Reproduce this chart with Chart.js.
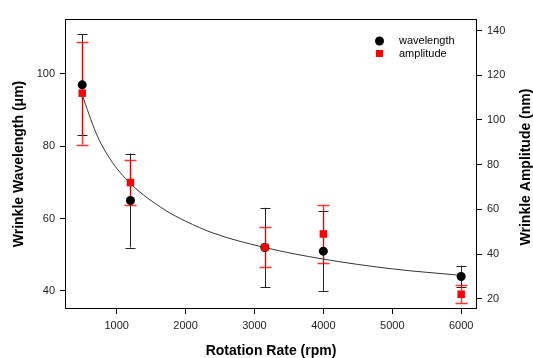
<!DOCTYPE html>
<html>
<head>
<meta charset="utf-8">
<script src="https://cdn.jsdelivr.net/npm/chart.js@4"></script>
<style>
  html, body { margin: 0; padding: 0; background: #fff; }
  #wrap { width: 533px; height: 358px; }
</style>
</head>
<body>
<div id="wrap"><canvas id="chart" width="533" height="358"></canvas></div>
<script>
'use strict';

// --- data ---
const rpm = [500, 1200, 3150, 4000, 6000];
const wavelength = [97, 65, 52, 51, 44];          // µm, left axis
const wavelengthErr = [14, 13, 11, 11, 3];
const amplitude = [112, 72, 43, 49, 22];          // nm, right axis
const amplitudeErr = [23, 10, 9, 13, 4];

// fitted curve (left axis)
const fitRpm = [500, 700, 900, 1200, 1700, 2000, 2400, 3150, 4000, 5000, 6000];
const fitWavelength = [94.2, 83.7, 76.6, 69.7, 62.4, 59.3, 56.0, 52.0, 48.8, 46.1, 44.3];

const xTicks = [1000, 2000, 3000, 4000, 5000, 6000];
const leftTicks = [40, 60, 80, 100];
const rightTicks = [20, 40, 60, 80, 100, 120, 140];

const FONT = "'Liberation Sans', Arial, Helvetica, sans-serif";

const toPoints = (xs, ys) => xs.map((x, i) => ({ x: x, y: ys[i] }));

// error bars drawn under the markers, through the chart scales
const errorBars = {
    id: 'errorBars',
    beforeDatasetsDraw(chart) {
        const ctx = chart.ctx;
        const xScale = chart.scales.x;
        chart.data.datasets.forEach(ds => {
            if (!ds.errors) return;
            const yScale = chart.scales[ds.yAxisID];
            ctx.save();
            ctx.strokeStyle = ds.errorColor;
            ctx.lineWidth = ds.errorWidth;
            ds.data.forEach((p, j) => {
                const x = Math.round(xScale.getPixelForValue(p.x)) + 0.5;
                const top = yScale.getPixelForValue(p.y + ds.errors[j]);
                const bot = yScale.getPixelForValue(p.y - ds.errors[j]);
                const cap = ds.capHalf;
                ctx.beginPath();
                ctx.moveTo(x, top);
                ctx.lineTo(x, bot);
                ctx.moveTo(x - cap, Math.round(top) + 0.5);
                ctx.lineTo(x + cap, Math.round(top) + 0.5);
                ctx.moveTo(x - cap, Math.round(bot) + 0.5);
                ctx.lineTo(x + cap, Math.round(bot) + 0.5);
                ctx.stroke();
            });
            ctx.restore();
        });
    }
};

// frame around the plot, custom legend and the right-hand title
const decorations = {
    id: 'decorations',
    beforeDatasetsDraw(chart) {
        const { ctx, chartArea: a } = chart;
        ctx.save();
        ctx.strokeStyle = '#000';
        ctx.lineWidth = 1;
        ctx.strokeRect(Math.round(a.left) + 0.5, Math.round(a.top) + 0.5,
            Math.round(a.right - a.left) - 1, Math.round(a.bottom - a.top) - 1);
        ctx.restore();
    },
    afterDraw(chart) {
        const ctx = chart.ctx;
        ctx.save();
        // legend
        ctx.fillStyle = '#000';
        ctx.beginPath();
        ctx.arc(379.5, 41, 4.5, 0, Math.PI * 2);
        ctx.fill();
        ctx.fillStyle = '#ff0000';
        ctx.fillRect(376, 50, 7, 7);
        ctx.fillStyle = '#000';
        ctx.font = '11px ' + FONT;
        ctx.textAlign = 'left';
        ctx.textBaseline = 'middle';
        ctx.fillText('wavelength', 399, 41);
        ctx.fillText('amplitude', 399, 53.5);
        // right axis title, reading bottom to top
        ctx.font = 'bold 14px ' + FONT;
        ctx.textAlign = 'center';
        ctx.translate(526.5, 167);
        ctx.rotate(-Math.PI / 2);
        ctx.fillText('Wrinkle Amplitude (nm)', 0, 0);
        ctx.restore();
    }
};

const tickStyle = {
    color: '#222',
    font: { family: FONT, size: 11 },
    padding: 5,
    callback: v => String(v)
};
const gridStyle = { drawOnChartArea: false, drawTicks: true, tickLength: 5, color: '#000', tickColor: '#000' };

new Chart(document.getElementById('chart'), {
    type: 'scatter',
    data: {
        datasets: [
            {
                label: 'wavelength',
                data: toPoints(rpm, wavelength),
                yAxisID: 'y',
                errors: wavelengthErr,
                errorColor: '#222',
                errorWidth: 1,
                capHalf: 5,
                pointStyle: 'circle',
                pointRadius: 4.5,
                pointBackgroundColor: '#000',
                pointBorderWidth: 0,
                order: 1
            },
            {
                label: 'amplitude',
                data: toPoints(rpm, amplitude),
                yAxisID: 'y1',
                errors: amplitudeErr,
                errorColor: 'rgba(255, 0, 0, 0.8)',
                errorWidth: 1.5,
                capHalf: 6,
                pointStyle: 'rect',
                pointRadius: 5.3,
                pointBackgroundColor: '#ff0000',
                pointBorderWidth: 0,
                order: 0
            },
            {
                label: 'fit',
                data: toPoints(fitRpm, fitWavelength),
                yAxisID: 'y',
                showLine: true,
                cubicInterpolationMode: 'monotone',
                borderColor: '#333',
                borderWidth: 1,
                pointRadius: 0,
                order: 2
            }
        ]
    },
    options: {
        responsive: false,
        animation: false,
        layout: { padding: { top: 19, left: 0, right: 0, bottom: 0 } },
        plugins: { legend: { display: false }, tooltip: { enabled: false } },
        scales: {
            x: {
                type: 'linear',
                position: 'bottom',
                min: 250,
                max: 6230,
                afterBuildTicks: s => { s.ticks = xTicks.map(v => ({ value: v })); },
                afterFit: s => { s.height = 49; },
                ticks: Object.assign({ maxRotation: 0, autoSkip: false }, tickStyle),
                grid: gridStyle,
                border: { display: false },
                title: {
                    display: true,
                    text: 'Rotation Rate (rpm)',
                    color: '#000',
                    font: { family: FONT, size: 14, weight: 'bold', lineHeight: 1 },
                    padding: { top: 0, bottom: 0 }
                }
            },
            y: {
                type: 'linear',
                position: 'left',
                min: 35,
                max: 115.2,
                afterBuildTicks: s => { s.ticks = leftTicks.map(v => ({ value: v })); },
                afterFit: s => { s.width = 65; },
                ticks: tickStyle,
                grid: gridStyle,
                border: { display: false },
                title: {
                    display: true,
                    text: 'Wrinkle Wavelength (\u03bcm)',
                    color: '#000',
                    font: { family: FONT, size: 14, weight: 'bold', lineHeight: 1 },
                    padding: { top: 12.5, bottom: 0 }
                }
            },
            y1: {
                type: 'linear',
                position: 'right',
                min: 15.4,
                max: 145.2,
                afterBuildTicks: s => { s.ticks = rightTicks.map(v => ({ value: v })); },
                afterFit: s => { s.width = 56; },
                ticks: tickStyle,
                grid: gridStyle,
                border: { display: false }
            }
        }
    },
    plugins: [errorBars, decorations]
});
</script>
</body>
</html>
